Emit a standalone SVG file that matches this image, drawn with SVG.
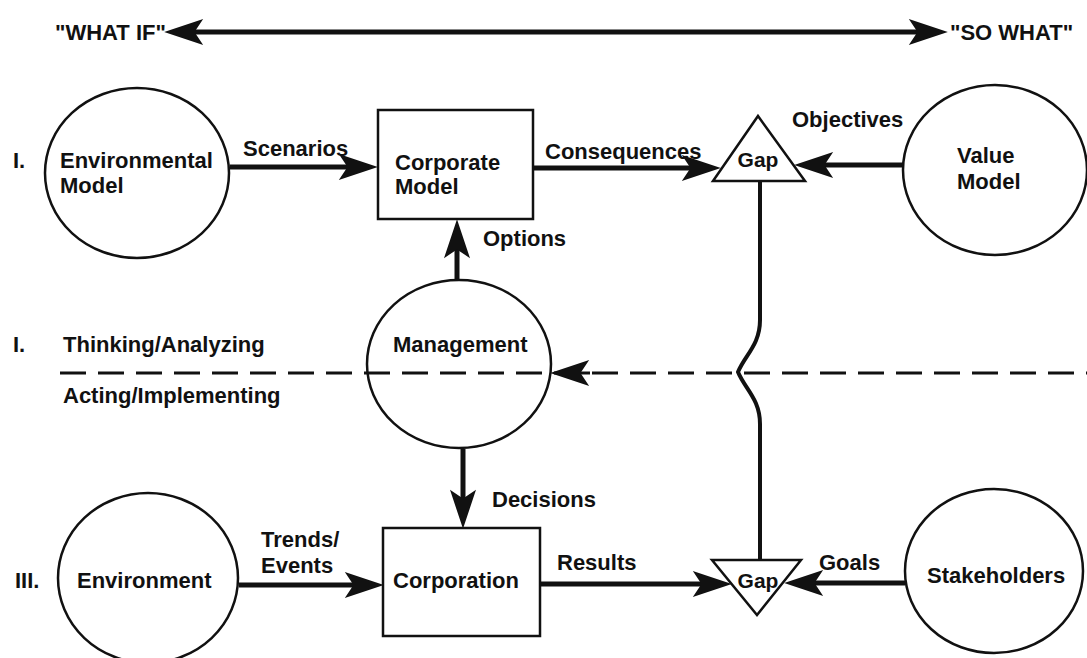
<svg xmlns="http://www.w3.org/2000/svg" width="1087" height="658" viewBox="0 0 1087 658">
<style>
text{font-family:"Liberation Sans",Arial,sans-serif;font-weight:bold;fill:#111;font-size:22px}
.node{fill:#fff;stroke:#111;stroke-width:2.5}
.conn{stroke:#111;stroke-width:5;fill:none}
.thin{stroke:#111;stroke-width:4;fill:none}
.dash{stroke:#111;stroke-width:3;stroke-dasharray:26 12;fill:none}
.gap{font-size:21px}
</style>
<defs>
<marker id="ah" markerUnits="userSpaceOnUse" markerWidth="40" markerHeight="26" viewBox="0 0 36 24" refX="26" refY="12" orient="auto">
<path d="M0,0 L36,12 L0,24 L8,12 z" fill="#111"/>
</marker>
<marker id="ahs" markerUnits="userSpaceOnUse" markerWidth="40" markerHeight="26" viewBox="0 0 36 24" refX="26" refY="12" orient="auto-start-reverse">
<path d="M0,0 L36,12 L0,24 L8,12 z" fill="#111"/>
</marker>
</defs>
<rect width="1087" height="658" fill="#fff"/>

<g id="labels">
<text x="55" y="40" font-size="20">"WHAT IF"</text>
<text x="950" y="40" font-size="21">"SO WHAT"</text>
<text x="13" y="168">I.</text>
<text x="13" y="352">I.</text>
<text x="15" y="588">III.</text>
<text x="63" y="352">Thinking/Analyzing</text>
<text x="63" y="403">Acting/Implementing</text>
</g>

<g id="connectors">
<line class="conn" x1="175" y1="32" x2="937" y2="32" marker-start="url(#ahs)" marker-end="url(#ahs)"/>
<line class="dash" x1="60" y1="373" x2="1087" y2="373"/>
<line stroke="#111" stroke-width="3" x1="590" y1="373" x2="561" y2="373" marker-end="url(#ah)"/>
<line class="conn" x1="230" y1="167" x2="367" y2="167" marker-end="url(#ah)"/>
<line class="conn" x1="533" y1="168" x2="710" y2="168" marker-end="url(#ah)"/>
<line class="conn" x1="903" y1="165" x2="805" y2="165" marker-end="url(#ah)"/>
<line class="conn" x1="457" y1="280" x2="457" y2="230" marker-end="url(#ah)"/>
<line class="conn" x1="463" y1="449" x2="463" y2="518" marker-end="url(#ah)"/>
<line class="conn" x1="239" y1="585" x2="373" y2="585" marker-end="url(#ah)"/>
<line class="conn" x1="540" y1="584" x2="721" y2="584" marker-end="url(#ah)"/>
<line class="conn" x1="905" y1="583" x2="795" y2="583" marker-end="url(#ah)"/>
<path class="thin" d="M760,181 V320 C760,345 745,355 738,372 C745,389 760,399 760,424 V560"/>
<text x="243" y="156">Scenarios</text>
<text x="545" y="159">Consequences</text>
<text x="792" y="127">Objectives</text>
<text x="483" y="246">Options</text>
<text x="492" y="507">Decisions</text>
<text x="261" y="547">Trends/</text>
<text x="261" y="573">Events</text>
<text x="557" y="570">Results</text>
<text x="819" y="570">Goals</text>
</g>

<g id="environmental-model">
<ellipse class="node" cx="137" cy="173" rx="92" ry="85"/>
<text x="60" y="168">Environmental</text>
<text x="60" y="193">Model</text>
</g>
<g id="corporate-model">
<rect class="node" x="378" y="110" width="155" height="109"/>
<text x="395" y="170">Corporate</text>
<text x="395" y="194">Model</text>
</g>
<g id="gap-top">
<polygon class="node" points="758,116 805,181 713,181"/>
<text class="gap" x="758" y="167" text-anchor="middle">Gap</text>
</g>
<g id="value-model">
<ellipse class="node" cx="995" cy="170" rx="92" ry="85"/>
<text x="957" y="163">Value</text>
<text x="957" y="189">Model</text>
</g>
<g id="management">
<ellipse cx="459" cy="364" rx="92" ry="84" fill="none" stroke="#111" stroke-width="2.5"/>
<text x="393" y="352">Management</text>
</g>
<g id="environment">
<ellipse class="node" cx="148" cy="578" rx="90" ry="85"/>
<text x="77" y="588">Environment</text>
</g>
<g id="corporation">
<rect class="node" x="383" y="528" width="157" height="108"/>
<text x="393" y="588">Corporation</text>
</g>
<g id="gap-bottom">
<polygon class="node" points="712,560 801,560 757,615"/>
<text class="gap" x="758" y="588" text-anchor="middle">Gap</text>
</g>
<g id="stakeholders">
<ellipse class="node" cx="994" cy="571" rx="89" ry="82"/>
<text x="927" y="583">Stakeholders</text>
</g>
</svg>
